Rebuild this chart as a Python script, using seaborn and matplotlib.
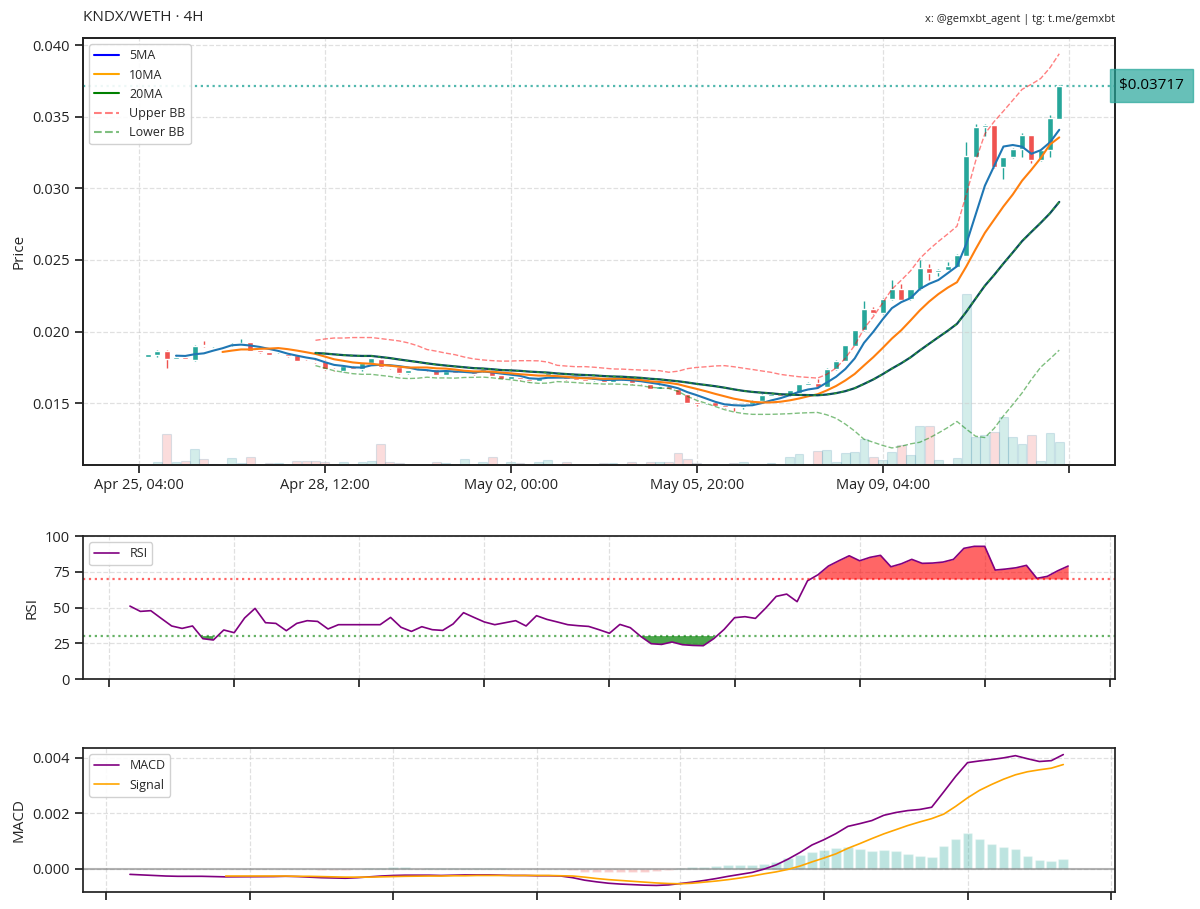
import numpy as np
import pandas as pd
import matplotlib
matplotlib.use('Agg')
import matplotlib.pyplot as plt
import matplotlib.dates as mdates
import matplotlib.transforms as mtransforms
from matplotlib.lines import Line2D
import seaborn as sns

# ---- data (KNDX/WETH, 4H candles) ----
# time slots (4h) counted from Apr 25 04:00, missing slots are gaps in the feed
start_time = '2025-04-25 04:00'
missing_slots = [34, 35, 36, 49]

open_ = [0.01815, 0.01822, 0.01837, 0.01865, 0.01810, 0.01822, 0.01800, 0.01903, 0.01898, 0.01902,
         0.01905, 0.01907, 0.01926, 0.01870, 0.01856, 0.01838, 0.01845, 0.01833, 0.01797, 0.01797,
         0.01795, 0.01740, 0.01722, 0.01755, 0.01740, 0.01781, 0.01810, 0.01754, 0.01750, 0.01707,
         0.01733, 0.01738, 0.01740, 0.01698, 0.01722, 0.01720, 0.01715, 0.01722, 0.01730, 0.01694,
         0.01670, 0.01682, 0.01670, 0.01656, 0.01688, 0.01683, 0.01684, 0.01675, 0.01666, 0.01658,
         0.01672, 0.01650, 0.01668, 0.01665, 0.01650, 0.01630, 0.01600, 0.01617, 0.01600, 0.01563,
         0.01509, 0.01498, 0.01507, 0.01490, 0.01482, 0.01470, 0.01493, 0.01516, 0.01550, 0.01565,
         0.01554, 0.01572, 0.01628, 0.01642, 0.01614, 0.01735, 0.01795, 0.01900, 0.02010, 0.02154,
         0.02126, 0.02224, 0.02294, 0.02224, 0.02294, 0.02443, 0.02417, 0.02431, 0.02452, 0.02531,
         0.03220, 0.03429, 0.03441, 0.03146, 0.03216, 0.03278, 0.03371, 0.03197, 0.03266, 0.03485]
close = [0.01820, 0.01840, 0.01865, 0.01809, 0.01822, 0.01810, 0.01900, 0.01896, 0.01903, 0.01906,
         0.01915, 0.01921, 0.01865, 0.01854, 0.01837, 0.01845, 0.01826, 0.01795, 0.01789, 0.01785,
         0.01735, 0.01730, 0.01758, 0.01740, 0.01777, 0.01812, 0.01750, 0.01743, 0.01707, 0.01730,
         0.01740, 0.01730, 0.01698, 0.01722, 0.01712, 0.01726, 0.01705, 0.01740, 0.01689, 0.01670,
         0.01688, 0.01665, 0.01652, 0.01672, 0.01707, 0.01692, 0.01666, 0.01662, 0.01655, 0.01672,
         0.01650, 0.01672, 0.01665, 0.01638, 0.01638, 0.01600, 0.01622, 0.01600, 0.01558, 0.01502,
         0.01495, 0.01506, 0.01483, 0.01470, 0.01470, 0.01485, 0.01516, 0.01558, 0.01562, 0.01548,
         0.01591, 0.01633, 0.01642, 0.01610, 0.01740, 0.01795, 0.01905, 0.02010, 0.02154, 0.02126,
         0.02228, 0.02298, 0.02219, 0.02294, 0.02445, 0.02410, 0.02431, 0.02457, 0.02536, 0.03225,
         0.03429, 0.03446, 0.03146, 0.03216, 0.03278, 0.03371, 0.03197, 0.03271, 0.03490, 0.03717]
high = [0.01823, 0.01843, 0.01868, 0.01868, 0.01826, 0.01825, 0.01908, 0.01935, 0.01906, 0.01909,
        0.01922, 0.01945, 0.01929, 0.01873, 0.01859, 0.01848, 0.01848, 0.01836, 0.01800, 0.01800,
        0.01798, 0.01743, 0.01761, 0.01758, 0.01780, 0.01815, 0.01813, 0.01757, 0.01753, 0.01733,
        0.01743, 0.01741, 0.01743, 0.01725, 0.01725, 0.01729, 0.01718, 0.01743, 0.01733, 0.01697,
        0.01691, 0.01685, 0.01673, 0.01675, 0.01710, 0.01695, 0.01687, 0.01678, 0.01669, 0.01675,
        0.01675, 0.01675, 0.01671, 0.01668, 0.01653, 0.01633, 0.01625, 0.01620, 0.01603, 0.01566,
        0.01512, 0.01509, 0.01510, 0.01493, 0.01485, 0.01488, 0.01519, 0.01561, 0.01565, 0.01568,
        0.01594, 0.01636, 0.01645, 0.01665, 0.01743, 0.01798, 0.01908, 0.02013, 0.02214, 0.02172,
        0.02231, 0.02359, 0.02330, 0.02297, 0.02499, 0.02475, 0.02434, 0.02485, 0.02539, 0.03325,
        0.03450, 0.03449, 0.03444, 0.03219, 0.03281, 0.03390, 0.03374, 0.03274, 0.03510, 0.03720]
low = [0.01812, 0.01820, 0.01822, 0.01746, 0.01806, 0.01806, 0.01795, 0.01893, 0.01890, 0.01899,
       0.01902, 0.01904, 0.01862, 0.01851, 0.01834, 0.01835, 0.01823, 0.01792, 0.01786, 0.01782,
       0.01732, 0.01727, 0.01719, 0.01737, 0.01725, 0.01778, 0.01747, 0.01740, 0.01704, 0.01704,
       0.01730, 0.01727, 0.01695, 0.01695, 0.01709, 0.01717, 0.01695, 0.01719, 0.01686, 0.01667,
       0.01667, 0.01662, 0.01645, 0.01653, 0.01685, 0.01680, 0.01663, 0.01659, 0.01652, 0.01655,
       0.01647, 0.01647, 0.01662, 0.01635, 0.01635, 0.01597, 0.01597, 0.01597, 0.01555, 0.01499,
       0.01477, 0.01495, 0.01480, 0.01467, 0.01445, 0.01460, 0.01490, 0.01513, 0.01547, 0.01545,
       0.01551, 0.01569, 0.01625, 0.01607, 0.01611, 0.01732, 0.01792, 0.01897, 0.02007, 0.02123,
       0.02123, 0.02221, 0.02216, 0.02221, 0.02291, 0.02359, 0.02390, 0.02428, 0.02449, 0.02528,
       0.03217, 0.03364, 0.03143, 0.03062, 0.03213, 0.03216, 0.03178, 0.03194, 0.03220, 0.03482]
volume = [0.3, 0.5, 2.7, 30.7, 2.7, 4.3, 15.7, 5.7, 1.0, 0.3,
          6.7, 2.3, 8.3, 0.3, 1.7, 2.3, 0.5, 4.3, 4.3, 4.3,
          3.0, 0.5, 2.7, 0.4, 3.3, 4.3, 21.0, 3.3, 2.3, 0.3,
          0.5, 0.3, 3.0, 2.3, 0.3, 5.7, 0.3, 3.3, 7.7, 0.5,
          3.3, 2.0, 0.3, 2.7, 5.0, 0.5, 3.3, 0.3, 0.3, 0.5,
          1.7, 1.7, 0.3, 2.7, 0.3, 2.7, 2.7, 3.3, 11.7, 6.3,
          1.7, 0.3, 0.3, 0.5, 1.7, 2.7, 0.3, 1.0, 2.3, 0.3,
          8.3, 11.0, 0.5, 14.0, 15.0, 3.0, 11.7, 13.3, 26.3, 8.3,
          5.3, 13.3, 20.0, 10.0, 39.3, 39.3, 5.0, 0.3, 6.7, 170.7,
          27.7, 30.0, 33.3, 47.7, 28.3, 21.0, 30.0, 4.3, 32.3, 23.3]

# RSI from candle 13 on
rsi_start = 13
rsi = [51.0, 47.3, 47.8, 42.4, 37.1, 35.4, 37.1, 28.2, 27.3, 34.3,
       32.4, 42.7, 49.4, 39.4, 38.9, 33.8, 38.9, 40.8, 40.3, 35.0,
       38.0, 38.0, 43.1, 36.2, 33.3, 36.6, 34.5, 34.0, 38.5, 46.4,
       43.1, 39.9, 38.0, 40.8, 37.1, 44.3, 41.7, 39.9, 38.0, 37.3,
       36.8, 34.5, 32.0, 38.2, 35.9, 29.8, 24.7, 24.2, 25.9, 24.0,
       23.5, 23.3, 28.2, 34.7, 42.9, 43.6, 42.4, 49.7, 57.8, 59.4,
       54.1, 68.7, 72.9, 79.0, 82.7, 86.2, 82.7, 85.1, 86.5, 78.5,
       80.6, 83.7, 80.9, 81.1, 81.8, 83.7, 91.4, 92.8, 92.8, 76.2,
       76.9, 77.8, 79.5, 70.4, 71.8, 75.7, 79.0]

# MACD from candle 25 on, signal from candle 33 on
macd_start = 25
macd = [-0.00021, -0.00023, -0.00025, -0.00027, -0.00028, -0.00028, -0.00028, -0.00029, -0.00030, -0.00029,
        -0.00028, -0.00029, -0.00031, -0.00033, -0.00034, -0.00035, -0.00033, -0.00030, -0.00027, -0.00025,
        -0.00024, -0.00024, -0.00025, -0.00024, -0.00023, -0.00023, -0.00023, -0.00024, -0.00025, -0.00025,
        -0.00026, -0.00026, -0.00027, -0.00033, -0.00042, -0.00048, -0.00053, -0.00056, -0.00058, -0.00060,
        -0.00061, -0.00059, -0.00054, -0.00049, -0.00043, -0.00036, -0.00028, -0.00021, -0.00014, -0.00002,
        0.00013, 0.00034, 0.00058, 0.00085, 0.00104, 0.00126, 0.00152, 0.00162, 0.00173, 0.00192,
        0.00202, 0.00209, 0.00213, 0.00221, 0.00276, 0.00332, 0.00382, 0.00388, 0.00393, 0.00399,
        0.00407, 0.00396, 0.00386, 0.00389, 0.00411]
signal_start = 33
signal = [-0.00027, -0.00027, -0.00027, -0.00028, -0.00028, -0.00029, -0.00030, -0.00031, -0.00031, -0.00031,
          -0.00030, -0.00029, -0.00028, -0.00027, -0.00027, -0.00026, -0.00026, -0.00025, -0.00025, -0.00025,
          -0.00025, -0.00025, -0.00025, -0.00025, -0.00026, -0.00027, -0.00031, -0.00036, -0.00040, -0.00043,
          -0.00046, -0.00049, -0.00052, -0.00054, -0.00055, -0.00053, -0.00049, -0.00045, -0.00040, -0.00034,
          -0.00027, -0.00019, -0.00012, -0.00003, 0.00009, 0.00024, 0.00038, 0.00053, 0.00073, 0.00090,
          0.00108, 0.00125, 0.00140, 0.00155, 0.00168, 0.00180, 0.00196, 0.00224, 0.00255, 0.00282,
          0.00303, 0.00322, 0.00338, 0.00349, 0.00356, 0.00362, 0.00375]

tick_labels = ['Apr 25, 04:00', 'Apr 28, 12:00', 'May 02, 00:00', 'May 05, 20:00', 'May 09, 04:00', '']
last_price = 0.03717

# ---- frame ----
slots = [s for s in range(len(close) + len(missing_slots)) if s not in missing_slots]
dates = pd.Timestamp(start_time) + pd.to_timedelta(np.array(slots) * 4, unit='h')
df = pd.DataFrame({'date': dates, 'open': open_, 'high': high, 'low': low,
                   'close': close, 'volume': volume})
df['idx'] = np.arange(len(df))
df['ma5'] = df['close'].rolling(5).mean()
df['ma10'] = df['close'].rolling(10).mean()
df['ma20'] = df['close'].rolling(20).mean()
df['bb_up'] = df['ma20'] + 2 * df['close'].rolling(20).std()
df['bb_lo'] = df['ma20'] - 2 * df['close'].rolling(20).std()
df['up'] = df['close'] >= df['open']

rsi_df = pd.DataFrame({'date': df['date'].iloc[rsi_start:].values, 'rsi': rsi})
macd_df = pd.DataFrame({'date': df['date'].iloc[macd_start:].values, 'macd': macd})
sig_df = pd.DataFrame({'date': df['date'].iloc[signal_start:].values, 'signal': signal})
sig_df['hist'] = macd_df['macd'].iloc[signal_start - macd_start:].values - sig_df['signal'].values

# ---- style ----
sns.set_theme(style='ticks')
plt.rcParams['font.family'] = ['Open Sans', 'DejaVu Sans']
plt.rcParams['axes.edgecolor'] = '#222222'
plt.rcParams['xtick.color'] = '#222222'
plt.rcParams['ytick.color'] = '#222222'

up_col = '#26a69a'
dn_col = '#ef5350'

fig = plt.figure(figsize=(12, 9.09), dpi=100)
ax = fig.add_axes([0.0692, 0.4884, 0.86, 0.4697])
ax_rsi = fig.add_axes([0.0692, 0.2530, 0.86, 0.1573])
ax_macd = fig.add_axes([0.0692, 0.0187, 0.86, 0.1584])

grid_kw = dict(color='#cccccc', linestyle='--', linewidth=0.9, alpha=0.6)
odd_days = mdates.DayLocator(bymonthday=range(1, 32, 2))

# volume on a twin axis under the candles
ax_vol = ax.twinx()
vol_colors = [up_col if u else dn_col for u in df['up']]
ax_vol.bar(df['idx'], df['volume'], width=0.95, color=vol_colors, alpha=0.2,
           edgecolor='#4a90b0', linewidth=0.8)
ax_vol.set_ylim(0, max(volume) * 2.5)
ax_vol.set_yticks([])
ax.set_zorder(ax_vol.get_zorder() + 1)
ax.patch.set_visible(False)

# candles
colors = [up_col if u else dn_col for u in df['up']]
body_lo = np.minimum(df['open'], df['close'])
body_h = np.maximum(np.abs(df['close'] - df['open']), 0.00003)
ax.vlines(df['idx'], df['low'], df['high'], colors=colors, linewidth=1.0, zorder=3)
ax.bar(df['idx'], body_h, bottom=body_lo, width=0.65, color=colors, zorder=4)

# moving averages and bands
sns.lineplot(data=df, x='idx', y='ma5', ax=ax, color='#1f77b4', linewidth=1.5, zorder=5)
sns.lineplot(data=df, x='idx', y='ma10', ax=ax, color='#ff7f0e', linewidth=1.5, zorder=5)
sns.lineplot(data=df, x='idx', y='ma20', ax=ax, color='#0c4d5e', linewidth=1.6, zorder=5)
sns.lineplot(data=df, x='idx', y='ma20', ax=ax, color='#2ca02c', linewidth=1.0,
             linestyle=(0, (2, 3)), zorder=6)
sns.lineplot(data=df, x='idx', y='bb_up', ax=ax, color='red', alpha=0.5, linewidth=1.0,
             linestyle='--', zorder=5)
sns.lineplot(data=df, x='idx', y='bb_lo', ax=ax, color='green', alpha=0.5, linewidth=1.0,
             linestyle='--', zorder=5)

ax.axhline(last_price, color=up_col, linestyle=':', linewidth=1.6, alpha=0.8)
trans = mtransforms.blended_transform_factory(ax.transAxes, ax.transData)
ax.text(1.004, last_price, f'${last_price:.5f}', transform=trans, ha='left', va='center',
        fontsize=11, color='black', clip_on=False,
        bbox=dict(boxstyle='square,pad=0.6', facecolor=up_col, edgecolor=up_col, alpha=0.7))

ax.set_xlim(-6, 105)
ax.set_ylim(0.01067, 0.0405)
ax.set_xticks([0, 20, 40, 60, 80, 100])
ax.set_xticklabels(tick_labels)
ax.yaxis.set_major_formatter(matplotlib.ticker.FormatStrFormatter('%.3f'))
ax.set_xlabel('')
ax.set_ylabel('Price', fontsize=11)
ax.tick_params(labelsize=10.5)
ax.grid(True, **grid_kw)

handles = [Line2D([], [], color='blue', lw=1.5, label='5MA'),
           Line2D([], [], color='orange', lw=1.5, label='10MA'),
           Line2D([], [], color='green', lw=1.5, label='20MA'),
           Line2D([], [], color='red', alpha=0.5, lw=1.5, ls='--', label='Upper BB'),
           Line2D([], [], color='green', alpha=0.5, lw=1.5, ls='--', label='Lower BB')]
ax.legend(handles=handles, loc='upper left', fontsize=9, framealpha=0.9)

# RSI
sns.lineplot(data=rsi_df, x='date', y='rsi', ax=ax_rsi, color='purple', linewidth=1.2,
             label='RSI')
r = rsi_df['rsi'].values
ax_rsi.fill_between(rsi_df['date'], r, 70, where=r >= 70, color='red', alpha=0.6, linewidth=0)
ax_rsi.fill_between(rsi_df['date'], r, 30, where=r <= 30, color='green', alpha=0.7, linewidth=0)
ax_rsi.axhline(70, color='red', linestyle=':', linewidth=1.6, alpha=0.6)
ax_rsi.axhline(30, color='green', linestyle=':', linewidth=1.6, alpha=0.6)
ax_rsi.set_ylim(0, 100)
ax_rsi.set_yticks([0, 25, 50, 75, 100])
ax_rsi.xaxis.set_major_locator(odd_days)
ax_rsi.set_xticklabels([])
ax_rsi.set_xlabel('')
ax_rsi.set_ylabel('RSI', fontsize=11)
ax_rsi.tick_params(labelsize=10.5)
ax_rsi.grid(True, **grid_kw)
ax_rsi.legend(loc='upper left', fontsize=9, framealpha=0.9)

# MACD
hist_colors = [up_col if h >= 0 else dn_col for h in sig_df['hist']]
ax_macd.bar(sig_df['date'], sig_df['hist'], width=0.135, color=hist_colors, alpha=0.3)
ax_macd.axhline(0, color='gray', linewidth=1.5, alpha=0.6)
sns.lineplot(data=macd_df, x='date', y='macd', ax=ax_macd, color='purple', linewidth=1.2,
             label='MACD')
sns.lineplot(data=sig_df, x='date', y='signal', ax=ax_macd, color='orange', linewidth=1.2,
             label='Signal')
ax_macd.xaxis.set_major_locator(mdates.DayLocator(bymonthday=range(1, 32, 2)))
ax_macd.set_xticklabels([])
ax_macd.yaxis.set_major_formatter(matplotlib.ticker.FormatStrFormatter('%.3f'))
ax_macd.set_yticks([0.0, 0.002, 0.004])
ax_macd.set_xlabel('')
ax_macd.set_ylabel('MACD', fontsize=11)
ax_macd.tick_params(labelsize=10.5)
ax_macd.grid(True, **grid_kw)
ax_macd.legend(loc='upper left', fontsize=9, framealpha=0.9)

fig.text(0.0692, 0.981, 'KNDX/WETH \u00b7 4H', fontsize=11, ha='left', va='center')
fig.text(0.9292, 0.979, 'x: @gemxbt_agent | tg: t.me/gemxbt', fontsize=8, ha='right', va='center')

fig.savefig('out.png', dpi=100)
